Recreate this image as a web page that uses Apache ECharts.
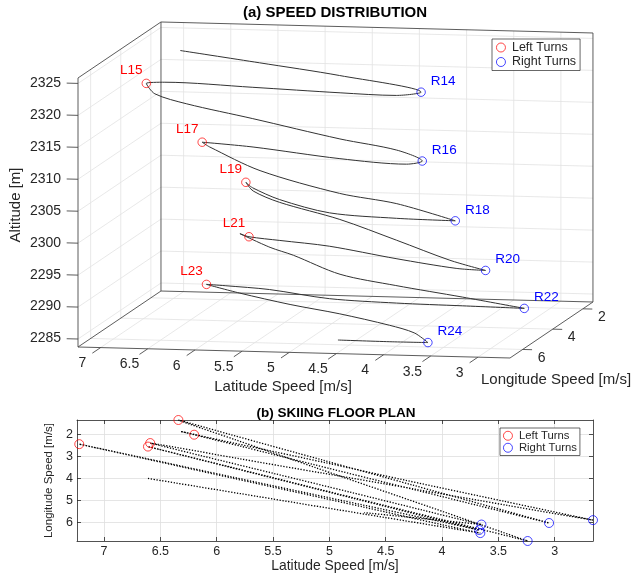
<!DOCTYPE html>
<html>
<head>
<meta charset="utf-8">
<script src="https://cdn.jsdelivr.net/npm/echarts@6/dist/echarts.min.js"></script>
<style>
  html, body { margin: 0; padding: 0; background: #fff; }
  #chart { width: 636px; height: 574px; }
</style>
</head>
<body>
<div id="chart"></div>
<script>
// ski run samples: latitude speed, longitude speed [m/s], altitude [m]
const pathLat = [6.61, 5.64, 4.66, 3.66, 3.98, 4.71, 5.84, 6.98, 7.22, 7.11, 6.70, 5.85, 4.73, 4.00, 3.67,
  3.88, 4.77, 5.93, 6.61, 6.51, 5.84, 4.78, 4.02, 3.24, 4.11, 5.10, 5.84, 6.24, 6.34, 6.24, 5.88, 5.05,
  4.27, 3.54, 3.05, 3.44, 4.24, 5.13, 5.79, 6.20, 6.32, 5.93, 5.63, 5.03, 4.31, 3.45, 2.66, 3.42, 4.24,
  5.07, 5.81, 6.36, 6.59, 6.15, 5.48, 4.82, 4.16, 3.83, 3.65, 4.09, 4.69];
const pathLon = [3.99, 4.81, 5.64, 6.48, 6.12, 5.28, 4.00, 2.70, 2.43, 2.55, 3.00, 3.94, 5.17, 5.97, 6.34,
  6.07, 4.92, 3.42, 2.54, 2.67, 3.52, 4.88, 5.84, 6.84, 5.29, 3.54, 2.22, 1.52, 1.33, 1.47, 1.99, 3.17,
  4.28, 5.32, 6.02, 5.53, 4.51, 3.37, 2.52, 2.00, 1.85, 2.29, 2.62, 3.28, 4.09, 5.03, 5.89, 5.22, 4.48,
  3.74, 3.08, 2.58, 2.38, 2.94, 3.78, 4.61, 5.45, 5.87, 6.09, 5.86, 5.55];
const pathAlt = [2325.85, 2325.6, 2325.3, 2324.4, 2323.2, 2322.0, 2320.4, 2318.7, 2318.0, 2316.6, 2315.9,
  2315.4, 2314.6, 2314.4, 2313.4, 2312.4, 2311.1, 2310.1, 2309.2, 2308.7, 2306.6, 2305.6, 2305.8, 2305.0,
  2302.6, 2300.3, 2300.0, 2300.6, 2301.1, 2300.0, 2299.2, 2298.7, 2297.5, 2296.3, 2296.0, 2295.4, 2295.0,
  2294.8, 2294.1, 2293.7, 2293.9, 2292.6, 2292.0, 2290.3, 2290.1, 2290.1, 2290.0, 2289.05, 2288.0, 2287.2,
  2287.3, 2286.9, 2286.7, 2286.4, 2286.2, 2286.3, 2286.1, 2285.7, 2284.6, 2284.2, 2283.75];

const leftNames = ['L15', 'L17', 'L19', 'L21', 'L23'];
const leftLat = [7.22, 6.61, 6.34, 6.20, 6.59];
const leftLon = [2.43, 2.54, 1.33, 2.00, 2.38];
const leftAlt = [2318.0, 2309.2, 2301.1, 2293.7, 2286.7];

const rightNames = ['R14', 'R16', 'R18', 'R20', 'R22', 'R24'];
const rightLat = [3.66, 3.67, 3.24, 3.05, 2.66, 3.65];
const rightLon = [6.48, 6.34, 6.84, 6.02, 5.89, 6.09];
const rightAlt = [2324.4, 2313.4, 2305.0, 2296.0, 2290.0, 2284.6];

const latTicks = [3, 3.5, 4, 4.5, 5, 5.5, 6, 6.5, 7];
const lonTicks3d = [2, 4, 6];
const lonTicks2d = [2, 3, 4, 5, 6];
const altTicks = [2285, 2290, 2295, 2300, 2305, 2310, 2315, 2320, 2325];

const latRange = [2.66, 7.24];
const lonRange = [1.33, 6.84];
const altRange = [2283.75, 2325.85];

// fixed view of the 3d box (pixels): front-left-bottom corner and unit steps
const corner0 = [78, 347];
const uLat = [94.32, 2.40];
const uLon = [15.06, -10.16];
const uAlt = [0, -6.39];

function proj(lat, lon, alt) {
  const a = latRange[1] - lat, b = lonRange[1] - lon, c = alt - altRange[0];
  return [corner0[0] + a * uLat[0] + b * uLon[0] + c * uAlt[0],
          corner0[1] + a * uLat[1] + b * uLon[1] + c * uAlt[1]];
}

const FONT = '"Liberation Sans", Arial, Helvetica, sans-serif';
const INK = '#262626';
const [la0, la1] = latRange, [lo0, lo1] = lonRange, [al0, al1] = altRange;

// grid lines on the three back planes
const gridSegs = [];
const edgeSegs = [];
function gl(p, q) { gridSegs.push({ p, q, color: '#e2e2e2', width: 0.8 }); }
function ed(p, q) { edgeSegs.push({ p, q, color: '#4a4a4a', width: 0.9 }); }

latTicks.forEach(v => {
  gl(proj(v, lo0, al0), proj(v, lo0, al1));
  gl(proj(v, lo0, al0), proj(v, lo1, al0));
  ed(proj(v, lo1, al0), proj(v, lo1 + 0.55, al0));
});
lonTicks3d.forEach(v => {
  gl(proj(la1, v, al0), proj(la1, v, al1));
  gl(proj(la0, v, al0), proj(la1, v, al0));
  ed(proj(la0, v, al0), proj(la0 - 0.1, v, al0));
});
altTicks.forEach(v => {
  gl(proj(la0, lo0, v), proj(la1, lo0, v));
  gl(proj(la1, lo0, v), proj(la1, lo1, v));
  ed(proj(la1, lo1, v), proj(la1 + 0.12, lo1, v));
});

// box edges
ed(proj(la1, lo1, al0), proj(la1, lo1, al1));
ed(proj(la1, lo1, al1), proj(la1, lo0, al1));
ed(proj(la1, lo0, al0), proj(la1, lo0, al1));
ed(proj(la1, lo1, al0), proj(la1, lo0, al0));
ed(proj(la1, lo0, al1), proj(la0, lo0, al1));
ed(proj(la0, lo0, al0), proj(la0, lo0, al1));
ed(proj(la1, lo0, al0), proj(la0, lo0, al0));
ed(proj(la1, lo1, al0), proj(la0, lo1, al0));
ed(proj(la0, lo1, al0), proj(la0, lo0, al0));

// texts of the 3d view
const texts = [];
altTicks.forEach(v => {
  const p = proj(la1 + 0.18, lo1, v);
  texts.push({ x: p[0], y: p[1], text: String(v), align: 'right', color: INK, size: 14 });
});
latTicks.forEach(v => {
  const p = proj(v, lo1 + 1.35, al0);
  texts.push({ x: p[0] + 2, y: p[1] + 2, text: String(v), align: 'center', color: INK, size: 14 });
});
lonTicks3d.forEach(v => {
  const p = proj(la0 - 0.16, v, al0);
  texts.push({ x: p[0], y: p[1] + 8, text: String(v), align: 'left', color: INK, size: 14 });
});
leftNames.forEach((n, i) => {
  const p = proj(leftLat[i], leftLon[i], leftAlt[i]);
  texts.push({ x: p[0] - 15, y: p[1] - 13, text: n, align: 'center', color: '#ff0000', size: 13.5 });
});
rightNames.forEach((n, i) => {
  const p = proj(rightLat[i], rightLon[i], rightAlt[i]);
  texts.push({ x: p[0] + 22, y: p[1] - 11, text: n, align: 'center', color: '#0000ff', size: 13.5 });
});

function segRenderer(list) {
  return function (params, api) {
    const s = list[params.dataIndex];
    const a = api.coord(s.p), b = api.coord(s.q);
    return { type: 'line', silent: true,
      shape: { x1: a[0], y1: a[1], x2: b[0], y2: b[1] },
      style: { stroke: s.color, lineWidth: s.width } };
  };
}

const path3d = pathLat.map((v, i) => proj(v, pathLon[i], pathAlt[i]));
const left3d = leftLat.map((v, i) => proj(v, leftLon[i], leftAlt[i]));
const right3d = rightLat.map((v, i) => proj(v, rightLon[i], rightAlt[i]));
const path2d = pathLat.map((v, i) => [v, pathLon[i]]);
const left2d = leftLat.map((v, i) => [v, leftLon[i]]);
const right2d = rightLat.map((v, i) => [v, rightLon[i]]);

const redRing = { color: 'rgba(0,0,0,0)', borderColor: '#ff0000', borderWidth: 0.9 };
const blueRing = { color: 'rgba(0,0,0,0)', borderColor: '#0000ff', borderWidth: 0.9 };

function legendData(w) {
  return [
    { name: 'Left Turns', icon: 'circle', itemStyle: { color: 'rgba(0,0,0,0)', borderColor: '#ff0000', borderWidth: w } },
    { name: 'Right Turns', icon: 'circle', itemStyle: { color: 'rgba(0,0,0,0)', borderColor: '#0000ff', borderWidth: w } }
  ];
}

const chart = echarts.init(document.getElementById('chart'), null, { renderer: 'canvas' });

const option = {
  backgroundColor: '#fff',
  animation: false,
  textStyle: { fontFamily: FONT },
  legend: [
    { data: legendData(0.9), orient: 'vertical', left: 492, top: 39, selectedMode: false,
      padding: [2, 4, 2, 4], itemGap: 1.5, itemWidth: 12, itemHeight: 9,
      backgroundColor: '#fff', borderColor: INK, borderWidth: 0.7,
      textStyle: { fontSize: 12.5, lineHeight: 12.5, color: INK, fontFamily: FONT } },
    { data: legendData(0.9), orient: 'vertical', left: 500, top: 428, selectedMode: false,
      padding: [2, 3, 2, 3], itemGap: 0.5, itemWidth: 12, itemHeight: 9,
      backgroundColor: '#fff', borderColor: INK, borderWidth: 0.7,
      textStyle: { fontSize: 11.3, lineHeight: 11.5, color: INK, fontFamily: FONT } }
  ],
  graphic: [
    { type: 'text', x: 335, y: 12.5, style: { text: '(a) SPEED DISTRIBUTION', font: 'bold 15px ' + FONT, fill: '#000', align: 'center', verticalAlign: 'middle' } },
    { type: 'text', x: 336, y: 413, style: { text: '(b) SKIING FLOOR PLAN', font: 'bold 13.5px ' + FONT, fill: '#000', align: 'center', verticalAlign: 'middle' } },
    { type: 'text', x: 283, y: 387, style: { text: 'Latitude Speed [m/s]', font: '15px ' + FONT, fill: INK, align: 'center', verticalAlign: 'middle' } },
    { type: 'text', x: 556, y: 380, style: { text: 'Longitude Speed [m/s]', font: '15px ' + FONT, fill: INK, align: 'center', verticalAlign: 'middle' } },
    { type: 'text', x: 15.5, y: 205, rotation: Math.PI / 2, style: { text: 'Altitude [m]', font: '15px ' + FONT, fill: INK, align: 'center', verticalAlign: 'middle' } }
  ],
  grid: [
    { left: 0, top: 0, width: 636, height: 400 },
    { left: 77, top: 420, width: 516, height: 122 }
  ],
  xAxis: [
    { type: 'value', gridIndex: 0, min: 0, max: 636, show: false },
    { type: 'value', gridIndex: 1, min: latRange[0], max: latRange[1], inverse: true, position: 'bottom',
      name: 'Latitude Speed [m/s]', nameLocation: 'middle', nameGap: 18,
      nameTextStyle: { fontSize: 13.9, color: INK, fontFamily: FONT },
      axisLine: { lineStyle: { color: INK, width: 0.8 } },
      axisTick: { inside: true, length: 4, customValues: latTicks, lineStyle: { color: INK, width: 0.8 } },
      axisLabel: { customValues: latTicks, margin: 4, fontSize: 12.5, color: INK, fontFamily: FONT },
      splitLine: { show: true, lineStyle: { color: '#dedede', width: 0.8 } } },
    { type: 'value', gridIndex: 1, min: latRange[0], max: latRange[1], inverse: true, position: 'top',
      axisLine: { lineStyle: { color: INK, width: 0.8 } },
      axisTick: { inside: true, length: 4, customValues: latTicks, lineStyle: { color: INK, width: 0.8 } },
      axisLabel: { show: false }, splitLine: { show: false } }
  ],
  yAxis: [
    { type: 'value', gridIndex: 0, min: 0, max: 400, inverse: true, show: false },
    { type: 'value', gridIndex: 1, min: lonRange[0], max: lonRange[1], inverse: true, position: 'left',
      name: 'Longitude Speed [m/s]', nameLocation: 'middle', nameGap: 16, nameRotate: 90,
      nameTextStyle: { fontSize: 11.5, color: INK, fontFamily: FONT },
      axisLine: { show: true, lineStyle: { color: INK, width: 0.8 } },
      axisTick: { show: true, inside: true, length: 4, customValues: lonTicks2d, lineStyle: { color: INK, width: 0.8 } },
      axisLabel: { customValues: lonTicks2d, margin: 4, fontSize: 12.5, color: INK, fontFamily: FONT },
      splitLine: { show: true, lineStyle: { color: '#dedede', width: 0.8 } } },
    { type: 'value', gridIndex: 1, min: lonRange[0], max: lonRange[1], inverse: true, position: 'right',
      axisLine: { show: true, lineStyle: { color: INK, width: 0.8 } },
      axisTick: { show: true, inside: true, length: 4, customValues: lonTicks2d, lineStyle: { color: INK, width: 0.8 } },
      axisLabel: { show: false }, splitLine: { show: false } }
  ],
  series: [
    { type: 'custom', name: 'grid3d', xAxisIndex: 0, yAxisIndex: 0, clip: false, silent: true, z: 1,
      renderItem: segRenderer(gridSegs), data: gridSegs.map(s => s.p) },
    { type: 'custom', name: 'edges3d', xAxisIndex: 0, yAxisIndex: 0, clip: false, silent: true, z: 2,
      renderItem: segRenderer(edgeSegs), data: edgeSegs.map(s => s.p) },
    { type: 'line', name: 'path3d', xAxisIndex: 0, yAxisIndex: 0, data: path3d, showSymbol: false,
      smooth: 0.3, clip: false, silent: true, z: 3, lineStyle: { color: '#333', width: 1 } },
    { type: 'scatter', name: 'Left Turns', xAxisIndex: 0, yAxisIndex: 0, data: left3d, symbol: 'circle',
      symbolSize: 8.5, itemStyle: redRing, z: 4, silent: true },
    { type: 'scatter', name: 'Right Turns', xAxisIndex: 0, yAxisIndex: 0, data: right3d, symbol: 'circle',
      symbolSize: 8.5, itemStyle: blueRing, z: 4, silent: true },
    { type: 'custom', name: 'text3d', xAxisIndex: 0, yAxisIndex: 0, clip: false, silent: true, z: 5,
      data: texts.map(t => [t.x, t.y]),
      renderItem: function (params, api) {
        const t = texts[params.dataIndex];
        const c = api.coord([t.x, t.y]);
        return { type: 'text', x: c[0], y: c[1], silent: true,
          style: { text: t.text, fill: t.color, font: t.size + 'px ' + FONT, align: t.align, verticalAlign: 'middle' } };
      } },
    { type: 'line', name: 'path2d', xAxisIndex: 1, yAxisIndex: 1, data: path2d, showSymbol: false,
      smooth: 0.3, silent: true, z: 3, lineStyle: { color: '#000', width: 1.3, type: [1.3, 1.6] } },
    { type: 'scatter', name: 'Left Turns', xAxisIndex: 1, yAxisIndex: 1, data: left2d, symbol: 'circle',
      symbolSize: 9, itemStyle: redRing, z: 4, silent: true },
    { type: 'scatter', name: 'Right Turns', xAxisIndex: 1, yAxisIndex: 1, data: right2d, symbol: 'circle',
      symbolSize: 9, itemStyle: blueRing, z: 4, silent: true }
  ]
};

chart.setOption(option);
</script>
</body>
</html>
